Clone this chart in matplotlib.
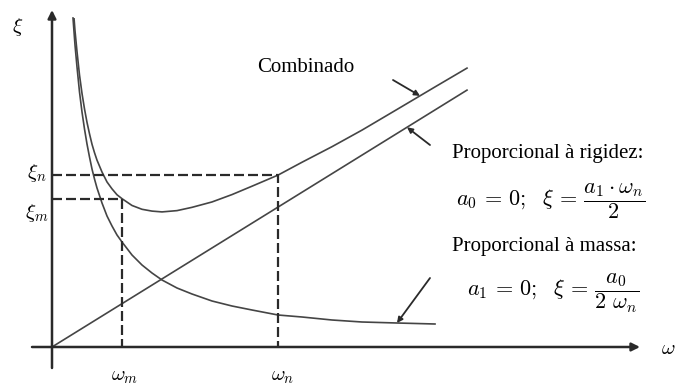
import numpy as np
import matplotlib
matplotlib.use("Agg")
from matplotlib import pyplot as plt
from matplotlib.patches import Rectangle

plt.rcParams['mathtext.fontset'] = 'cm'
plt.rcParams['font.family'] = ['Liberation Serif', 'DejaVu Serif']

# Curve values (arbitrary units)
omega = [0.21, 0.23, 0.25, 0.275, 0.30, 0.325, 0.35, 0.375, 0.40, 0.425, 0.45, 0.50,
         0.55, 0.60, 0.65, 0.70, 0.80, 0.90, 1.00, 1.10, 1.25, 1.40, 1.60, 1.80,
         2.00, 2.26, 2.50, 2.80, 3.10, 3.45, 3.83, 4.15]
xi_mass = [3.29, 3.02, 2.80, 2.55, 2.35, 2.18, 2.03, 1.90, 1.78, 1.68, 1.59, 1.44,
           1.31, 1.21, 1.12, 1.05, 0.92, 0.82, 0.74, 0.67, 0.59, 0.53, 0.46, 0.41,
           0.37, 0.32, 0.30, 0.27, 0.25, 0.24, 0.23, 0.22]
stiff_slope = 0.619      # a1 / 2
mass_end = 3.83          # mass curve drawn up to here
omega_m = 0.70
omega_n = 2.26

# Style
CURVECOLOR = '#454545'
AXISCOLOR = '#2a2a2a'
CURVEWIDTH = 1.2
TEXTSIZE = 15

omega = np.array(omega)
xi_mass = np.array(xi_mass)
xi_stiff = stiff_slope * omega
xi_comb = xi_stiff + xi_mass
xi_top = xi_mass[0]

xi_m = xi_comb[np.isclose(omega, omega_m)][0]
xi_n = xi_comb[np.isclose(omega, omega_n)][0]

fig = plt.figure(figsize=(6.78, 3.87), dpi=100)
ax = fig.add_axes([0, 0, 1, 1])
ax.set_xlim(-0.52, 6.26)
ax.set_ylim(-0.40, 3.47)
ax.axis('off')

# curves
clip = Rectangle((0, -1), 10, xi_top + 1, transform=ax.transData)
keep = omega <= mass_end
ax.plot(omega[keep], xi_mass[keep], color=CURVECOLOR, lw=CURVEWIDTH,
        solid_joinstyle='round')
line, = ax.plot(omega, xi_comb, color=CURVECOLOR, lw=CURVEWIDTH,
                solid_joinstyle='round')
line.set_clip_path(clip)
ax.plot([0, omega[-1]], [0, xi_stiff[-1]], color=CURVECOLOR, lw=CURVEWIDTH)

# dashed guides
dash = dict(color=AXISCOLOR, lw=1.6, dashes=(4.5, 1.8))
ax.plot([0, omega_n, omega_n], [xi_n, xi_n, 0], **dash)
ax.plot([0, omega_m, omega_m], [xi_m, xi_m, 0], **dash)

# axes with arrows
axarrow = dict(arrowstyle='-|>', lw=1.8, color=AXISCOLOR, shrinkA=0, shrinkB=0,
               mutation_scale=12)
ax.annotate('', xy=(0, 3.37), xytext=(0, -0.21), arrowprops=axarrow)
ax.annotate('', xy=(5.88, 0), xytext=(-0.20, 0), arrowprops=axarrow)

# axis labels
ax.text(-0.34, 3.20, r'$\xi$', fontsize=TEXTSIZE, ha='center', va='center')
ax.text(6.09, -0.03, r'$\omega$', fontsize=TEXTSIZE, ha='left', va='center')
ax.text(-0.15, xi_n + 0.02, r'$\xi_n$', fontsize=TEXTSIZE, ha='center', va='center')
ax.text(-0.15, xi_m - 0.14, r'$\xi_m$', fontsize=TEXTSIZE, ha='center', va='center')
ax.text(omega_m + 0.03, -0.29, r'$\omega_m$', fontsize=TEXTSIZE, ha='center', va='center')
ax.text(omega_n + 0.05, -0.29, r'$\omega_n$', fontsize=TEXTSIZE, ha='center', va='center')

# annotations
ptr = dict(arrowstyle='-|>', lw=1.3, color=AXISCOLOR, shrinkA=0, shrinkB=0,
           mutation_scale=8)
tip_c = 3.68
ax.annotate('', xy=(tip_c, np.interp(tip_c, omega, xi_comb)), xytext=(3.41, 2.67),
            arrowprops=ptr)
tip_s = 3.55
ax.annotate('', xy=(tip_s, stiff_slope * tip_s), xytext=(3.78, 2.02), arrowprops=ptr)
tip_m = 3.45
ax.annotate('', xy=(tip_m, xi_mass[np.isclose(omega, tip_m)][0]), xytext=(3.78, 0.69),
            arrowprops=ptr)

ax.text(2.54, 2.80, 'Combinado', fontsize=TEXTSIZE, ha='center', va='center')
ax.text(4.00, 1.94, 'Proporcional à rigidez:', fontsize=TEXTSIZE, ha='left', va='center')
ax.text(4.99, 1.46, r'$a_0\,=\,0;\ \ \xi\,=\,\dfrac{a_1\cdot\omega_n}{2}$',
        fontsize=TEXTSIZE + 1, ha='center', va='center')
ax.text(4.00, 1.00, 'Proporcional à massa:', fontsize=TEXTSIZE, ha='left', va='center')
ax.text(5.01, 0.54, r'$a_1\,=\,0;\ \ \xi\,=\,\dfrac{a_0}{2\ \omega_n}$',
        fontsize=TEXTSIZE + 1, ha='center', va='center')

fig.savefig('out.png', dpi=100)
